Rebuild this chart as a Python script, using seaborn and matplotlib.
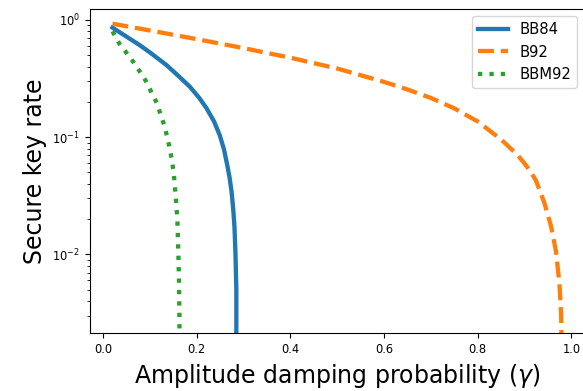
import matplotlib
matplotlib.use("Agg")
import matplotlib.pyplot as plt
import seaborn as sns
import pandas as pd

# Secure key rate versus amplitude damping probability for three QKD protocols
bb84_gamma = [0.02, 0.05, 0.078, 0.10, 0.135, 0.16, 0.185, 0.205, 0.221, 0.237,
              0.249, 0.258, 0.265, 0.270, 0.2744, 0.278, 0.2805, 0.2826, 0.2845,
              0.2853]
bb84_rate = [0.86, 0.72, 0.61, 0.528, 0.413, 0.335, 0.27, 0.217, 0.176, 0.136,
             0.104, 0.079, 0.058, 0.0454, 0.034, 0.0239, 0.0172, 0.0103, 0.005,
             0.0]

b92_gamma = [0.02, 0.10, 0.20, 0.30, 0.40, 0.50, 0.60, 0.65, 0.70, 0.75, 0.80,
             0.85, 0.885, 0.90, 0.914, 0.9246, 0.9423, 0.9566, 0.9673, 0.9745,
             0.978, 0.98]
b92_rate = [0.929, 0.813, 0.686, 0.575, 0.476, 0.385, 0.296, 0.255, 0.216, 0.176,
            0.136, 0.0955, 0.0705, 0.0596, 0.0501, 0.0424, 0.0275, 0.0174, 0.0105,
            0.0056, 0.00316, 0.00126]

bbm92_gamma = [0.02, 0.035, 0.0506, 0.0656, 0.080, 0.0935, 0.104, 0.1158, 0.1228,
               0.1316, 0.137, 0.1428, 0.147, 0.1507, 0.155, 0.1586, 0.1608, 0.162,
               0.163, 0.1633]
bbm92_rate = [0.80, 0.624, 0.52, 0.432, 0.355, 0.292, 0.237, 0.192, 0.155,
              0.123, 0.099, 0.079, 0.0626, 0.050, 0.0313, 0.0197, 0.0098, 0.0061,
              0.0030, 0.0]

protocols = ["BB84", "B92", "BBM92"]
colors = ["#1f77b4", "#ff7f0e", "#2ca02c"]
linestyles = ["-", "--", ":"]

frames = [
    pd.DataFrame({"gamma": bb84_gamma, "rate": bb84_rate}),
    pd.DataFrame({"gamma": b92_gamma, "rate": b92_rate}),
    pd.DataFrame({"gamma": bbm92_gamma, "rate": bbm92_rate}),
]

fig = plt.figure(figsize=(5.83, 3.91), dpi=100)
ax = fig.add_axes([90 / 583, 1 - 333.3 / 391, 494.5 / 583, (333.3 - 9) / 391])

for name, df, c, ls in zip(protocols, frames, colors, linestyles):
    sns.lineplot(data=df, x="gamma", y="rate", ax=ax, color=c, linestyle=ls,
                 linewidth=3.1, label=name, sort=False, estimator=None)

ax.set_yscale("log")
ax.set_ylim(0.00212, 1.24)
ax.set_xlim(-0.028, 1.028)
ax.set_xticks([0.0, 0.2, 0.4, 0.6, 0.8, 1.0])
ax.spines["right"].set_visible(False)
ax.tick_params(labelsize=8.3)
ax.set_xlabel(r"Amplitude damping probability ($\gamma$)", fontsize=17)
ax.set_ylabel("Secure key rate", fontsize=17)
ax.legend(loc="upper right", fontsize=10.6)

fig.savefig("out.png", dpi=100)
